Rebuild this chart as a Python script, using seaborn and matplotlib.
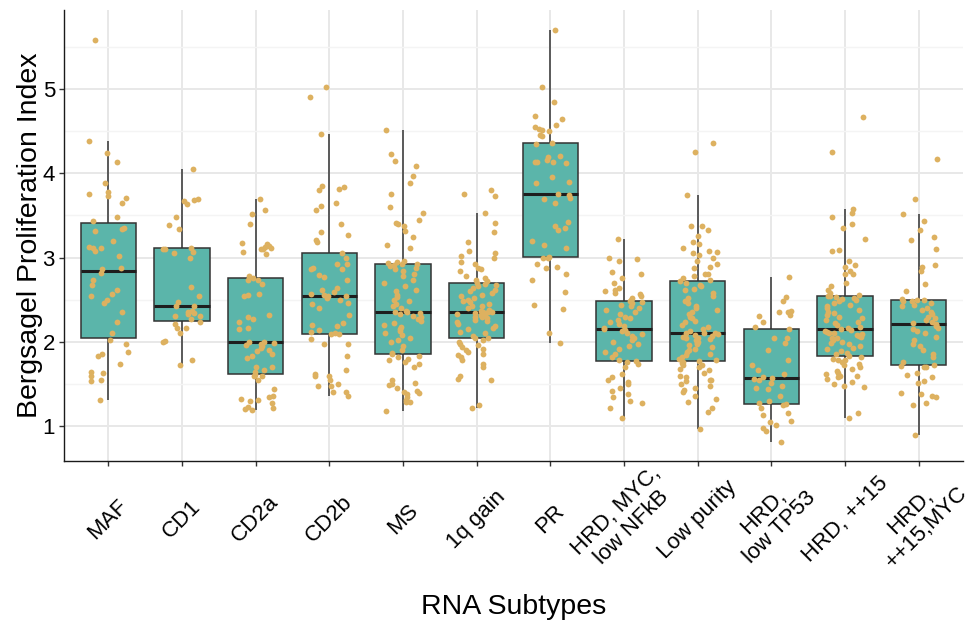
import numpy as np
import pandas as pd
import matplotlib
matplotlib.use("Agg")
import matplotlib.pyplot as plt
from matplotlib.ticker import MultipleLocator
import seaborn as sns

# ---------------- data ----------------
subtypes = ["MAF", "CD1", "CD2a", "CD2b", "MS", "1q gain", "PR",
            "HRD, MYC, low NFkB", "Low purity", "HRD, low TP53",
            "HRD, ++15", "HRD, ++15,MYC"]
tick_labels = ["MAF", "CD1", "CD2a", "CD2b", "MS", "1q gain", "PR",
               "HRD, MYC,\nlow NFkB", "Low purity", "HRD,\nlow TP53",
               "HRD, ++15", "HRD,\n++15,MYC"]

maf = [5.58, 4.39, 4.24, 4.14, 3.89, 3.78, 3.75, 3.73, 3.71, 3.65, 3.48, 3.43,
       3.35, 3.34, 3.32, 3.20, 3.13, 3.11, 3.11, 3.08, 3.02, 2.88, 2.87, 2.82,
       2.73, 2.68, 2.62, 2.57, 2.54, 2.50, 2.46, 2.35, 2.23, 2.10, 2.02, 1.98,
       1.88, 1.86, 1.83, 1.74, 1.64, 1.63, 1.59, 1.55, 1.54, 1.31]
cd1 = [4.05, 3.69, 3.68, 3.67, 3.64, 3.48, 3.39, 3.34, 3.12, 3.10, 3.10, 3.07,
       3.05, 2.99, 2.65, 2.54, 2.47, 2.42, 2.42, 2.37, 2.35, 2.34, 2.33, 2.31,
       2.31, 2.27, 2.23, 2.21, 2.17, 2.16, 2.10, 2.01, 2.00, 1.79, 1.72]
cd2a = [3.69, 3.56, 3.52, 3.40, 3.17, 3.16, 3.14, 3.13, 3.12, 3.10, 3.10, 3.07,
        3.04, 2.78, 2.76, 2.74, 2.73, 2.69, 2.57, 2.56, 2.54, 2.32, 2.29, 2.27,
        2.23, 2.16, 2.15, 2.00, 2.00, 1.99, 1.97, 1.96, 1.95, 1.93, 1.90, 1.89,
        1.85, 1.83, 1.81, 1.70, 1.70, 1.66, 1.64, 1.61, 1.59, 1.59, 1.55, 1.44,
        1.36, 1.34, 1.32, 1.31, 1.30, 1.27, 1.23, 1.22, 1.20, 1.19]
cd2b = [1.36, 1.40, 1.41, 1.47, 1.48, 1.50, 1.55, 1.59, 1.60, 1.62, 1.67, 1.83,
        1.97, 1.98, 2.03, 2.09, 2.09, 2.10, 2.12, 2.14, 2.19, 2.20, 2.22, 2.32,
        2.40, 2.45, 2.46, 2.50, 2.52, 2.54, 2.55, 2.56, 2.57, 2.59, 2.61, 2.64,
        2.74, 2.77, 2.79, 2.86, 2.87, 2.88, 2.92, 2.93, 2.99, 3.05, 3.18, 3.21,
        3.27, 3.30, 3.40, 3.56, 3.61, 3.65, 3.80, 3.82, 3.84, 3.85, 4.47, 4.91,
        5.03]
ms = [1.18, 1.28, 1.29, 1.31, 1.34, 1.38, 1.39, 1.40, 1.42, 1.45, 1.49, 1.50,
      1.51, 1.55, 1.70, 1.74, 1.76, 1.78, 1.80, 1.82, 1.83, 1.85, 1.87, 1.90,
      1.95, 2.00, 2.02, 2.05, 2.08, 2.10, 2.13, 2.15, 2.18, 2.20, 2.22, 2.25,
      2.27, 2.29, 2.31, 2.33, 2.34, 2.35, 2.36, 2.37, 2.40, 2.42, 2.45, 2.48,
      2.50, 2.53, 2.56, 2.60, 2.62, 2.66, 2.70, 2.74, 2.78, 2.80, 2.84, 2.86,
      2.88, 2.90, 2.91, 2.92, 2.93, 2.94, 2.95, 2.96, 3.12, 3.15, 3.24, 3.31,
      3.37, 3.40, 3.41, 3.45, 3.53, 3.60, 3.76, 3.89, 3.97, 4.09, 4.15, 4.23,
      4.52]
gain1q = [1.21, 1.25, 1.55, 1.56, 1.60, 1.70, 1.74, 1.78, 1.82, 1.84, 1.86, 1.88,
          1.90, 1.92, 1.94, 1.96, 1.98, 2.00, 2.02, 2.04, 2.05, 2.07, 2.10, 2.12,
          2.15, 2.17, 2.19, 2.21, 2.23, 2.25, 2.26, 2.28, 2.29, 2.30, 2.31, 2.32,
          2.33, 2.34, 2.35, 2.35, 2.36, 2.37, 2.38, 2.40, 2.42, 2.43, 2.45, 2.47,
          2.48, 2.50, 2.52, 2.54, 2.56, 2.58, 2.60, 2.62, 2.64, 2.66, 2.68, 2.69,
          2.70, 2.72, 2.74, 2.76, 2.78, 2.84, 2.86, 2.88, 2.92, 2.95, 3.00, 3.02,
          3.05, 3.08, 3.18, 3.30, 3.41, 3.53, 3.73, 3.75, 3.80]
pr = [5.70, 5.02, 4.85, 4.68, 4.65, 4.58, 4.55, 4.53, 4.52, 4.50, 4.46, 4.44,
      4.36, 4.35, 4.21, 4.20, 4.16, 4.13, 4.13, 4.12, 4.14, 3.96, 3.90, 3.89,
      3.76, 3.74, 3.71, 3.70, 3.65, 3.42, 3.37, 3.35, 3.33, 3.20, 3.15, 3.12,
      3.01, 3.00, 2.99, 2.93, 2.89, 2.88, 2.81, 2.73, 2.59, 2.44, 2.39, 2.10,
      1.99]
hrd_myc_nfkb = [1.09, 1.22, 1.27, 1.30, 1.35, 1.38, 1.42, 1.45, 1.50, 1.52, 1.55,
                1.58, 1.62, 1.70, 1.74, 1.76, 1.77, 1.79, 1.82, 1.85, 1.88, 1.92,
                1.95, 1.98, 2.00, 2.02, 2.05, 2.07, 2.09, 2.11, 2.13, 2.14, 2.15,
                2.17, 2.19, 2.21, 2.23, 2.26, 2.28, 2.30, 2.33, 2.36, 2.38, 2.40,
                2.42, 2.44, 2.46, 2.47, 2.48, 2.50, 2.52, 2.55, 2.57, 2.58, 2.60,
                2.62, 2.64, 2.70, 2.76, 2.80, 2.83, 2.96, 2.98, 3.00, 3.22]
low_purity = [0.97, 1.17, 1.21, 1.28, 1.32, 1.36, 1.40, 1.43, 1.45, 1.47, 1.50,
              1.53, 1.55, 1.55, 1.58, 1.60, 1.63, 1.66, 1.68, 1.70, 1.72, 1.73,
              1.75, 1.76, 1.77, 1.78, 1.80, 1.82, 1.84, 1.86, 1.88, 1.90, 1.92,
              1.94, 1.96, 1.98, 1.99, 2.00, 2.02, 2.03, 2.04, 2.05, 2.06, 2.07,
              2.08, 2.09, 2.10, 2.10, 2.11, 2.13, 2.15, 2.18, 2.20, 2.23, 2.25,
              2.28, 2.30, 2.33, 2.36, 2.38, 2.40, 2.43, 2.46, 2.49, 2.52, 2.55,
              2.58, 2.61, 2.63, 2.66, 2.68, 2.70, 2.72, 2.74, 2.76, 2.78, 2.80,
              2.81, 2.88, 2.89, 2.92, 2.96, 2.99, 3.03, 3.06, 3.07, 3.08, 3.12,
              3.16, 3.19, 3.26, 3.33, 3.38, 3.38, 3.74, 4.25, 4.36]
hrd_tp53 = [0.81, 0.94, 0.98, 1.01, 1.05, 1.06, 1.13, 1.16, 1.22, 1.25, 1.26,
            1.27, 1.30, 1.36, 1.44, 1.45, 1.48, 1.51, 1.55, 1.56, 1.57, 1.58,
            1.62, 1.66, 1.72, 1.79, 1.90, 1.99, 2.04, 2.05, 2.15, 2.18, 2.23,
            2.31, 2.32, 2.35, 2.36, 2.37, 2.48, 2.53, 2.77]
hrd_15 = [1.10, 1.16, 1.46, 1.47, 1.50, 1.52, 1.56, 1.58, 1.59, 1.60, 1.62, 1.63,
          1.65, 1.68, 1.70, 1.72, 1.74, 1.76, 1.78, 1.79, 1.80, 1.82, 1.83, 1.85,
          1.87, 1.89, 1.91, 1.93, 1.95, 1.97, 1.99, 2.00, 2.02, 2.04, 2.05, 2.06,
          2.07, 2.08, 2.09, 2.10, 2.11, 2.12, 2.13, 2.14, 2.15, 2.16, 2.18, 2.20,
          2.22, 2.24, 2.26, 2.28, 2.30, 2.32, 2.34, 2.36, 2.38, 2.40, 2.42, 2.44,
          2.46, 2.48, 2.50, 2.51, 2.52, 2.53, 2.54, 2.55, 2.56, 2.58, 2.62, 2.66,
          2.70, 2.80, 2.81, 2.84, 2.89, 2.91, 2.96, 3.08, 3.09, 3.22, 3.35, 3.40,
          3.48, 3.53, 3.58, 4.25, 4.67]
hrd_15_myc = [0.89, 1.25, 1.27, 1.35, 1.36, 1.38, 1.39, 1.51, 1.54, 1.58, 1.61,
              1.63, 1.70, 1.70, 1.71, 1.72, 1.76, 1.82, 1.86, 1.90, 1.95, 1.98,
              2.02, 2.06, 2.10, 2.13, 2.15, 2.17, 2.19, 2.20, 2.21, 2.22, 2.24,
              2.26, 2.28, 2.30, 2.33, 2.36, 2.38, 2.40, 2.42, 2.44, 2.46, 2.48,
              2.49, 2.50, 2.50, 2.51, 2.60, 2.69, 2.84, 2.89, 2.91, 3.10, 3.21,
              3.25, 3.33, 3.43, 3.52, 3.69, 4.17]

groups = [maf, cd1, cd2a, cd2b, ms, gain1q, pr, hrd_myc_nfkb, low_purity,
          hrd_tp53, hrd_15, hrd_15_myc]
df = pd.DataFrame({
    "subtype": np.repeat(subtypes, [len(g) for g in groups]),
    "value": np.concatenate(groups),
})

# ---------------- style ----------------
sns.set_style("ticks")
plt.rcParams["font.family"] = ["Liberation Sans", "DejaVu Sans"]

BOX_FILL = "#5BB5AA"
POINT_COL = "#DDB160"
EDGE = "#333333"

fig = plt.figure(figsize=(9.76, 6.28), dpi=100)
ax = fig.add_axes([64 / 976, 1 - 461 / 628, 899 / 976, 451 / 628])

sns.boxplot(data=df, x="subtype", y="value", order=subtypes, color=BOX_FILL,
            saturation=1, width=0.75, showfliers=False, whis=1.5,
            linecolor=EDGE, linewidth=1.1,
            medianprops=dict(color="#1E1E1E", linewidth=2.2),
            capprops=dict(linewidth=0), ax=ax)

np.random.seed(11)
sns.stripplot(data=df, x="subtype", y="value", order=subtypes, color=POINT_COL,
              jitter=0.27, size=4.2, linewidth=0, zorder=4, ax=ax)

# ---------------- axes ----------------
ax.set_xlim(-0.6, 11.6)
ax.set_ylim(0.585, 5.94)
ax.set_xticks(range(len(subtypes)))
ax.set_xticklabels(tick_labels)
ax.set_yticks([1, 2, 3, 4, 5])
ax.yaxis.set_minor_locator(MultipleLocator(0.5))

ax.set_axisbelow(True)
ax.grid(True, which="major", axis="both", color="#E8E8E8", linewidth=1.4)
ax.grid(True, which="minor", axis="y", color="#F4F4F4", linewidth=1.0)

for side in ["top", "right"]:
    ax.spines[side].set_visible(False)
for side in ["left", "bottom"]:
    ax.spines[side].set_color("#1A1A1A")
    ax.spines[side].set_linewidth(1.0)

ax.tick_params(axis="both", which="major", length=3.5, width=1.0,
               color="#333333", labelsize=16, labelcolor="black")
ax.tick_params(axis="y", which="major", pad=3)
ax.tick_params(axis="x", which="major", pad=38.5)
ax.tick_params(which="minor", length=0)

for lbl in ax.get_xticklabels():
    lbl.set_rotation(45)
    lbl.set_ha("center")
    lbl.set_va("center")
    lbl.set_rotation_mode("anchor")
    lbl.set_multialignment("center")
    lbl.set_linespacing(1.12)

ax.set_xlabel("RNA Subtypes", fontsize=20.5, color="black")
ax.set_ylabel("Bergsagel Proliferation Index", fontsize=20.5, color="black")
ax.xaxis.set_label_coords(0.5, -0.324)
ax.xaxis.label.set_va("center")
ax.yaxis.set_label_coords(-0.038, 0.5)
ax.yaxis.label.set_va("center")

fig.savefig("out.png", dpi=100)
